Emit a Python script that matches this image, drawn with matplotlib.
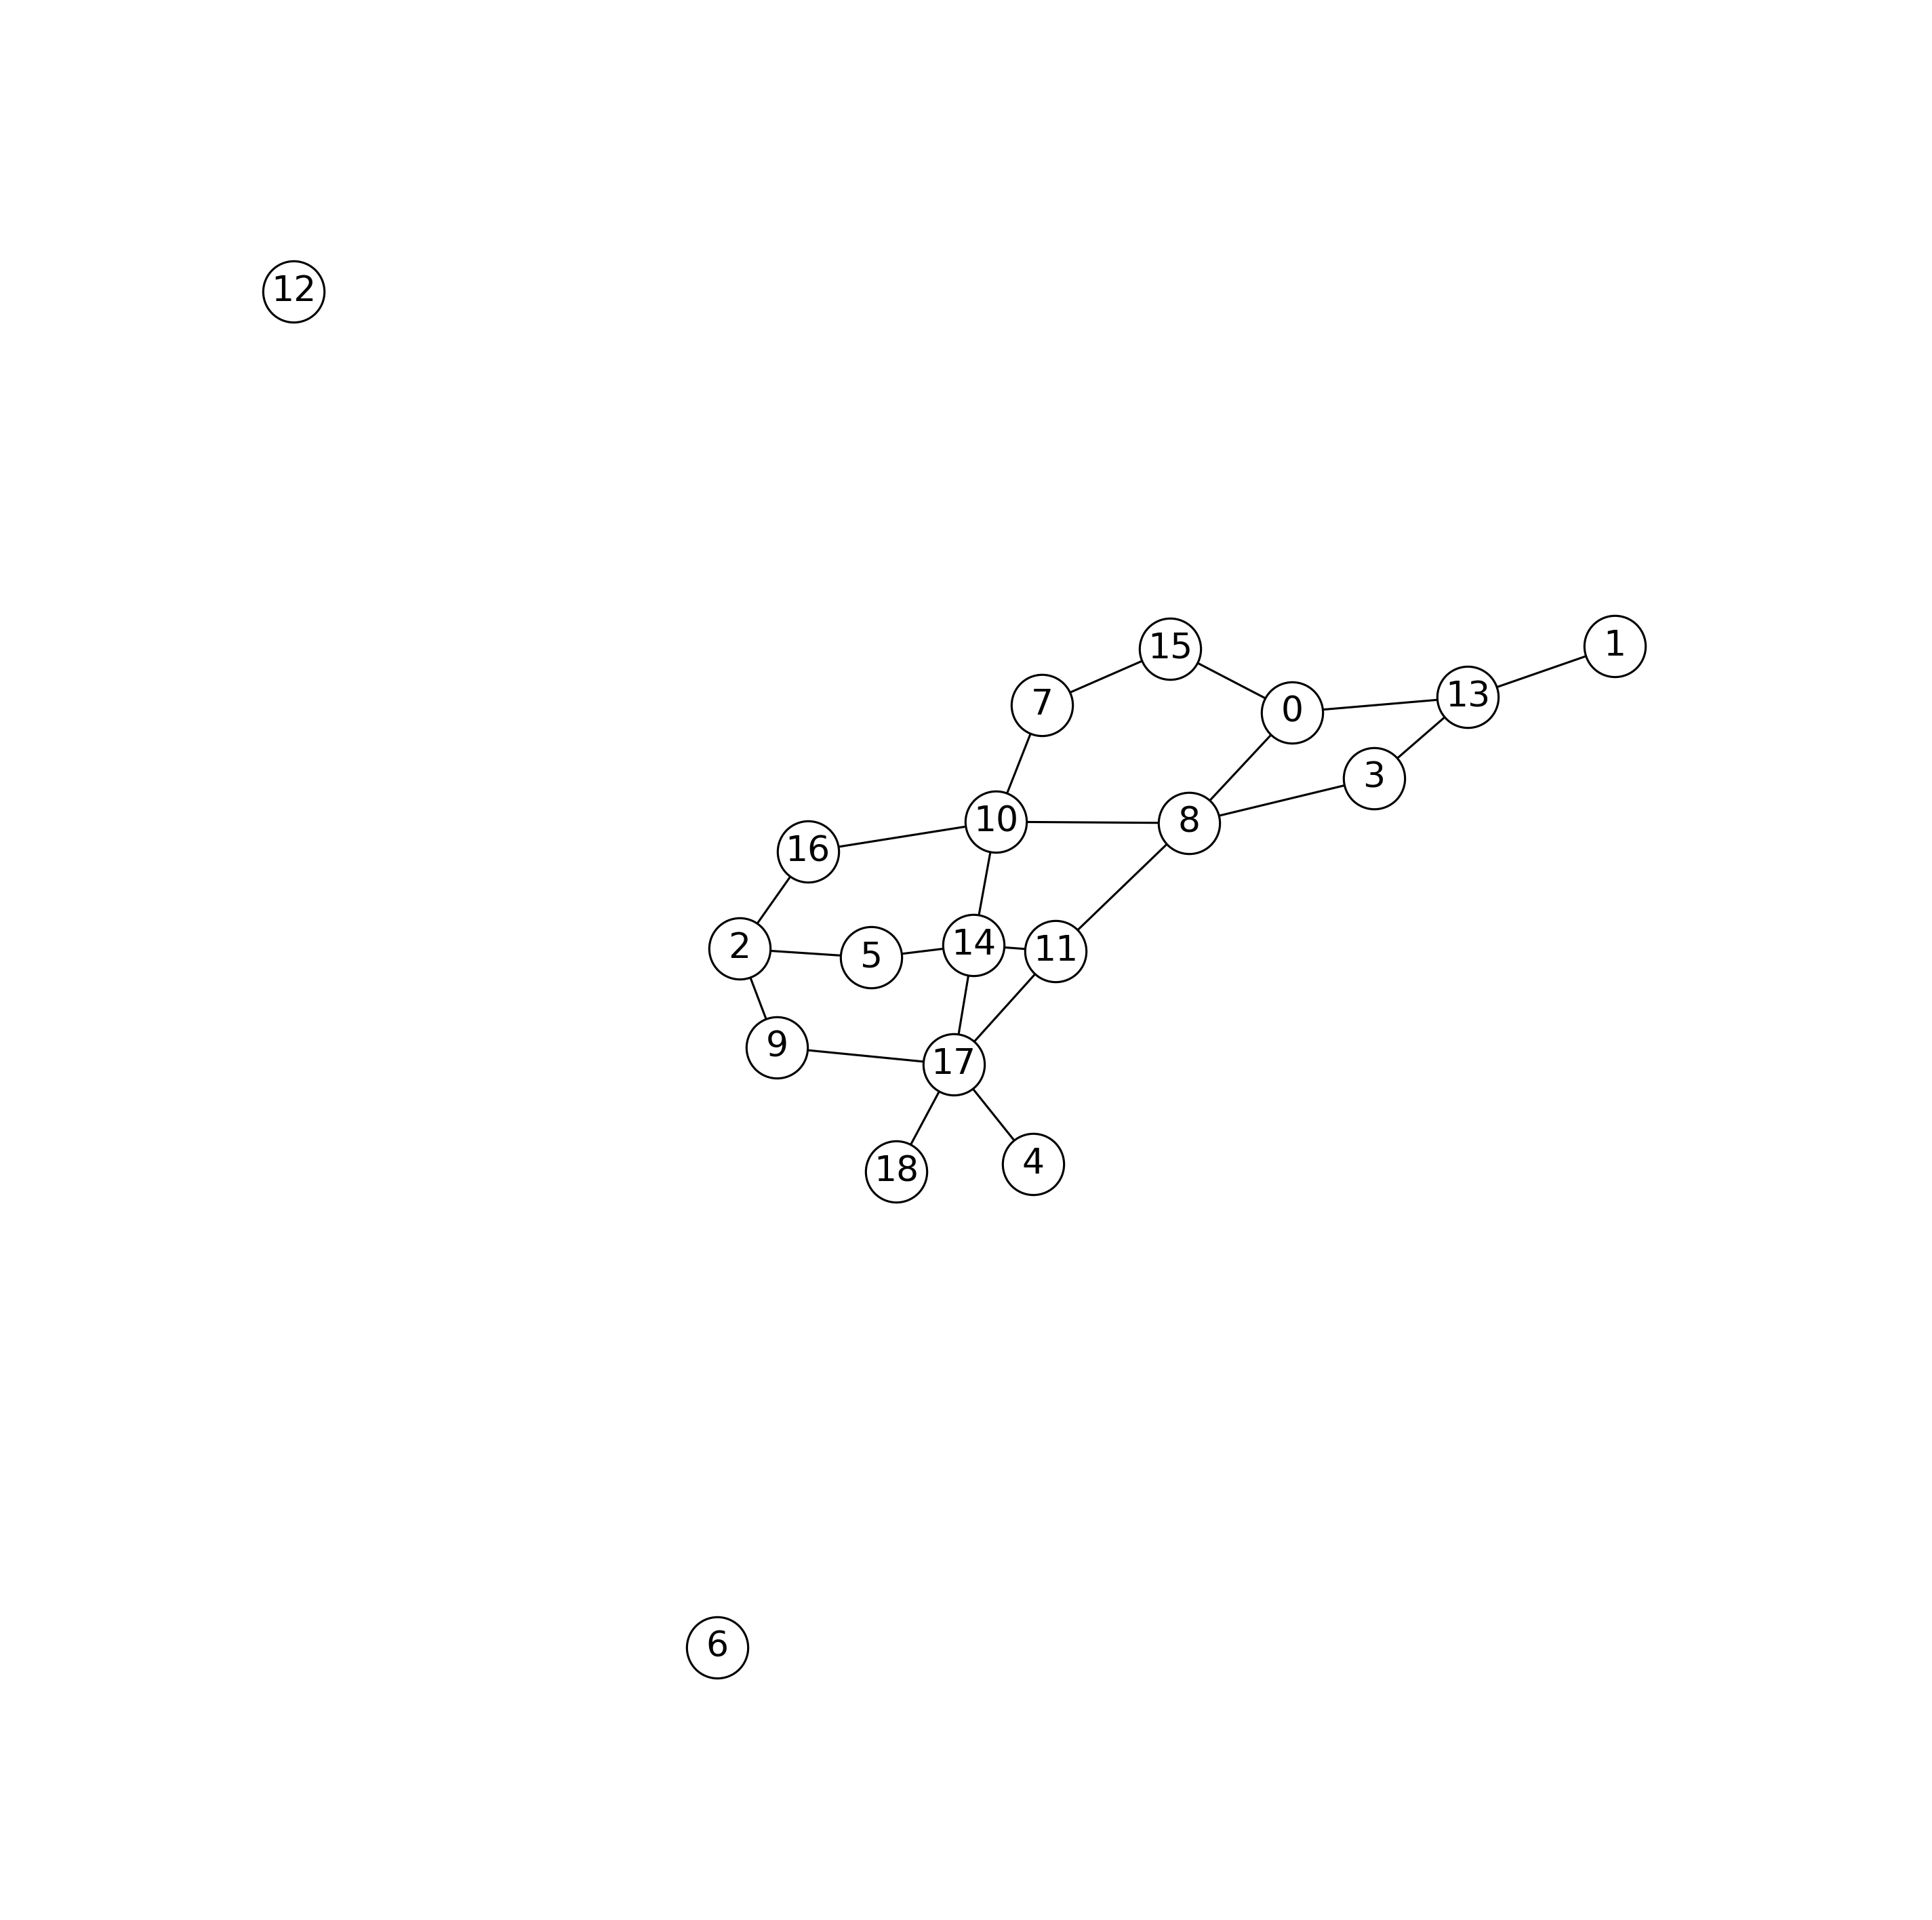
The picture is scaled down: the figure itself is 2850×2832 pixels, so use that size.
import matplotlib
matplotlib.use("Agg")
import matplotlib.pyplot as plt

nodes = list(range(19))
pos_x = [1038, 1297, 594, 1104, 830, 700, 576, 837, 955, 624, 800, 848, 236, 1179, 782, 940, 649, 766, 720]
pos_y = [572, 519, 762, 625, 935, 769, 1323, 566, 661, 841, 660, 764, 234, 560, 759, 521, 684, 855, 941]
edges = [(15, 7), (15, 0), (0, 13), (13, 1), (13, 3), (3, 8), (0, 8), (7, 10), (10, 8),
         (10, 16), (16, 2), (2, 5), (5, 14), (14, 11), (10, 14), (8, 11), (2, 9), (9, 17),
         (14, 17), (11, 17), (17, 18), (17, 4)]

fig = plt.figure(figsize=(9.5, 9.44), dpi=300)
ax = fig.add_axes([0, 0, 1, 1])
ax.set_xlim(0, 1552)
ax.set_ylim(1542, 0)
ax.axis("off")

for a, b in edges:
    ax.plot([pos_x[a], pos_x[b]], [pos_y[a], pos_y[b]], color="black", lw=0.75, zorder=1)
ax.scatter(pos_x, pos_y, s=470, facecolor="white", edgecolor="black", linewidths=0.75, zorder=2)
for n in nodes:
    ax.text(pos_x[n], pos_y[n], str(n), ha="center", va="center", fontsize=12.5, zorder=3)

fig.savefig("out.png", dpi=300)
